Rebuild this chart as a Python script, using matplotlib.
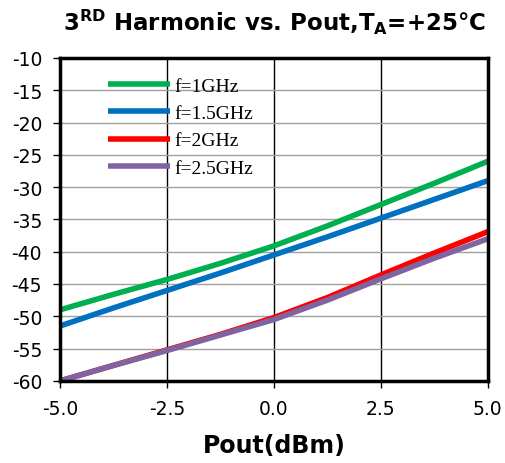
import matplotlib
matplotlib.use('Agg')
import matplotlib.pyplot as plt

plt.rcParams['mathtext.default'] = 'bf'
plt.rcParams['axes.unicode_minus'] = False

pout = [-5.0, -3.75, -2.5, -1.25, 0.0, 1.25, 2.5, 3.75, 5.0]

h3_1ghz = [-49.0, -46.6, -44.3, -41.8, -39.1, -36.0, -32.7, -29.4, -26.0]
h3_1p5ghz = [-51.5, -48.7, -46.0, -43.3, -40.5, -37.7, -34.8, -31.9, -29.0]
h3_2ghz = [-60.0, -57.6, -55.2, -52.8, -50.2, -47.1, -43.6, -40.2, -36.9]
h3_2p5ghz = [-60.0, -57.6, -55.3, -52.9, -50.5, -47.5, -44.2, -41.0, -38.0]

series = [
    ('f=1GHz', h3_1ghz, '#00b050'),
    ('f=1.5GHz', h3_1p5ghz, '#0070c0'),
    ('f=2GHz', h3_2ghz, '#ff0000'),
    ('f=2.5GHz', h3_2p5ghz, '#8064a2'),
]

x_ticks = [-5.0, -2.5, 0.0, 2.5, 5.0]
y_ticks = [-60, -55, -50, -45, -40, -35, -30, -25, -20, -15, -10]

fig = plt.figure(figsize=(5.05, 4.64), dpi=100)
ax = fig.add_axes([0.119, 0.177, 0.847, 0.696])

for label, vals, color in series:
    ax.plot(pout, vals, color=color, linewidth=4, label=label,
            solid_capstyle='butt')

ax.set_xlim(-5, 5)
ax.set_ylim(-60, -10)
ax.set_xticks(x_ticks)
ax.set_xticklabels(['%.1f' % v for v in x_ticks])
ax.set_yticks(y_ticks)

ax.yaxis.grid(True, color='#a0a0a0', linewidth=1)
ax.xaxis.grid(True, color='black', linewidth=1)
ax.set_axisbelow(True)

for sp in ax.spines.values():
    sp.set_linewidth(2.5)

ax.tick_params(axis='both', labelsize=13.5, length=5, width=1, direction='out')
ax.tick_params(axis='x', pad=8)
ax.tick_params(axis='y', pad=8)

ax.set_title(r'3$^{RD}$ Harmonic vs. Pout,T$_{A}$=+25°C',
             fontsize=16.5, fontweight='bold', pad=20)
ax.set_xlabel('Pout(dBm)', fontsize=17, fontweight='bold', labelpad=11)

ax.legend(loc='upper left', bbox_to_anchor=(0.07, 0.995),
          frameon=False, handlelength=3.2,
          handletextpad=0.25, labelspacing=0.5,
          prop={'family': 'Liberation Serif', 'size': 14})

fig.savefig('out.png', dpi=100)
